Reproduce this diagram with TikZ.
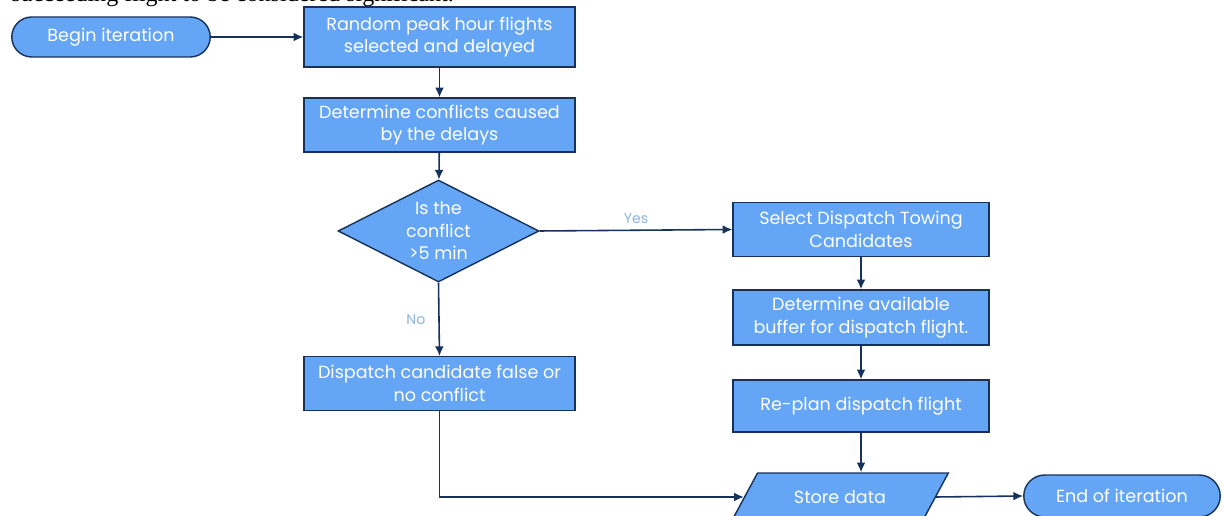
\documentclass[tikz,border=0pt]{standalone}
\usepackage{fontspec}
\setmainfont{Poppins}
\newfontfamily\docfont{Liberation Serif}
\usetikzlibrary{shapes.geometric,shapes.misc,arrows.meta}

\definecolor{boxblue}{RGB}{100,166,245}
\definecolor{edgenavy}{RGB}{22,50,92}
\definecolor{labelblue}{RGB}{141,179,226}

\tikzset{
  flowbox/.style={draw=edgenavy, fill=boxblue, text=white, line width=0.8pt,
    minimum width=5.42cm, minimum height=1.07cm, align=center, inner sep=1pt,
    font=\fontsize{10}{12.8}\selectfont},
  terminal/.style={flowbox, rounded rectangle, minimum width=4.04cm, minimum height=0.8cm},
  decision/.style={flowbox, diamond, aspect=2, inner sep=-6pt,
    minimum width=4.02cm, minimum height=2.04cm},
  storage/.style={flowbox, trapezium, trapezium left angle=48, trapezium right angle=132,
    trapezium stretches=true, minimum width=4.36cm, minimum height=0.96cm},
  flowline/.style={draw=edgenavy, line width=0.9pt, -{Latex[length=5.5pt,width=5pt]}},
  choice/.style={text=labelblue, font=\fontsize{8}{10}\selectfont}
}

\begin{document}
\begin{tikzpicture}[x=0.02cm, y=-0.02cm]
        % Page area, cut at the edges like the scan
        \clip (0,0) rectangle (1225,516);

        % Leftover line of the document text above the chart
        \node[anchor=base west, inner sep=0pt, font=\docfont\fontsize{13.7}{15}\selectfont] at (11,1.5)
          {succeeding flight to be considered significant.};

        % Left column
        \node[terminal] (begin) at (111,37) {Begin iteration};
        \node[flowbox, minimum height=1.2cm] (rand) at (439.5,37) {Random peak hour flights\\selected and delayed};
        \node[flowbox, minimum height=1.08cm] (conf) at (439.5,125) {Determine conflicts caused\\by the delays};
        \node[decision] (check) at (438.5,231) {Is the\\conflict\\>5 min};
        \node[flowbox] (nodisp) at (439.5,383.5) {Dispatch candidate false or\\no conflict};

        % Right column
        \node[flowbox, minimum width=5.12cm] (select) at (861,229.5) {Select Dispatch Towing\\Candidates};
        \node[flowbox, minimum width=5.12cm, minimum height=1.1cm] (buffer) at (861,317.5) {Determine available\\buffer for dispatch flight.};
        \node[flowbox, minimum width=5.12cm, minimum height=1.04cm] (replan) at (861,406) {Re-plan dispatch flight};

        % Bottom row
        \node[storage] (store) at (840,497) {Store data};
        \node[terminal, minimum width=4cm, minimum height=0.84cm] (finish) at (1122,496) {End of iteration};

        % Connectors
        \draw[flowline] (begin) -- (rand);
        \draw[flowline] (rand) -- (conf);
        \draw[flowline] (conf) -- (check);
        \draw[flowline] (check.south) -- node[choice, left=4pt] {No} (nodisp.north);
        \draw[flowline] (check.east) -- node[choice, above=0pt] {Yes} (select.west);
        \draw[flowline] (select) -- (buffer);
        \draw[flowline] (buffer) -- (replan);
        \draw[flowline] (replan.south) -- (replan.south |- store.north);
        \draw[flowline] (nodisp.south) |- (store.west);
        \draw[flowline] (store.east) -- (finish.west);
    \end{tikzpicture}
\end{document}
